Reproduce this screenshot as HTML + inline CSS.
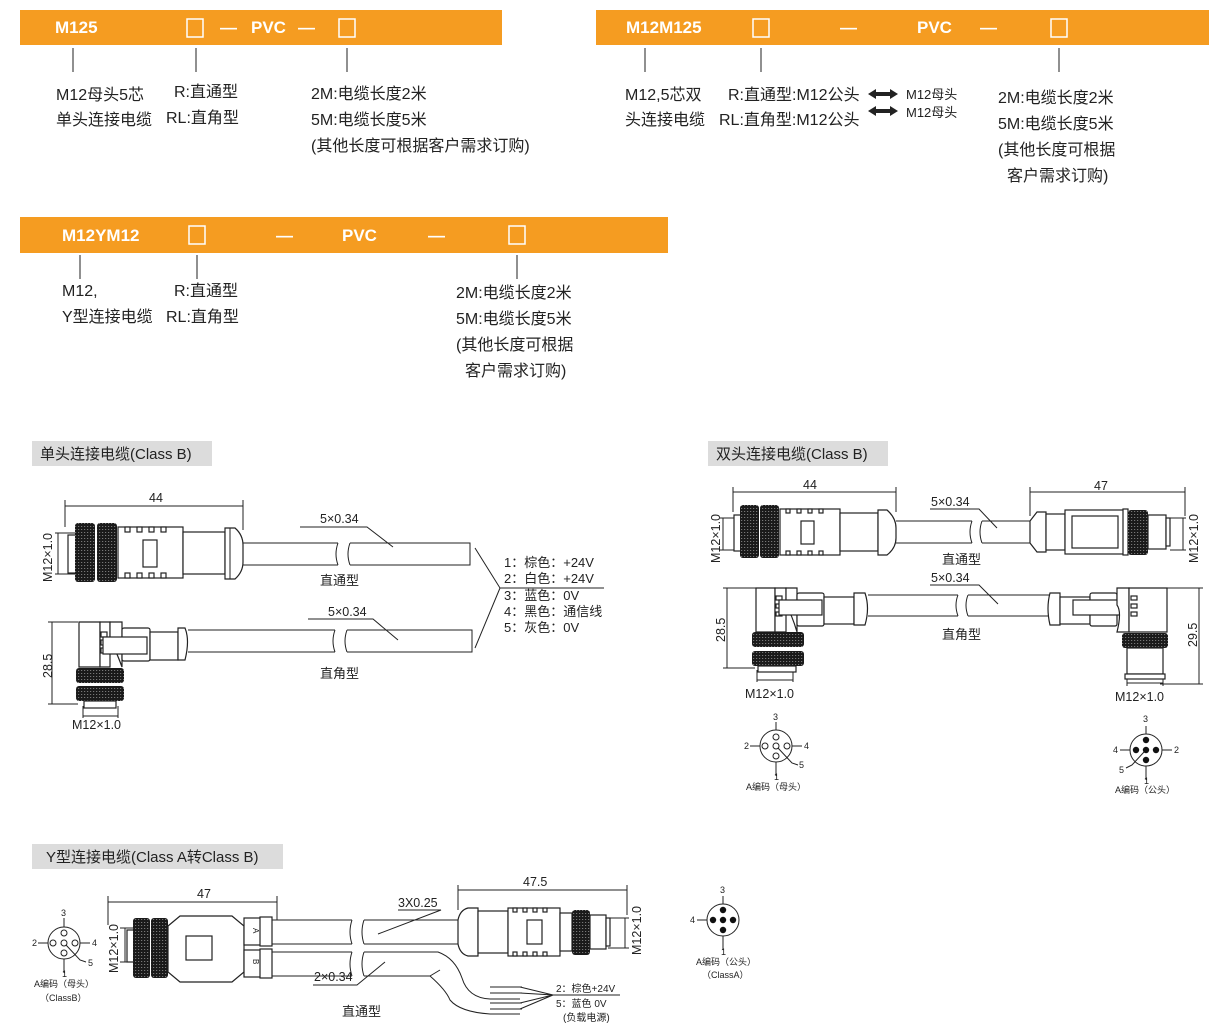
<!DOCTYPE html>
<html><head><meta charset="utf-8"><style>
html,body{margin:0;padding:0;background:#fff;}
svg{display:block;}
.t{font-family:"Liberation Sans","Noto Sans CJK SC",sans-serif;fill:#222;}
.w{font-family:"Liberation Sans","Noto Sans CJK SC",sans-serif;fill:#fff;font-weight:bold;}
.s{stroke:#222;fill:none;stroke-width:1;}
.b{stroke:#222;fill:#fff;stroke-width:1.2;}
</style></head><body>
<svg width="1223" height="1032" viewBox="0 0 1223 1032" xmlns="http://www.w3.org/2000/svg">
<defs>
<pattern id="kn" width="3" height="3" patternUnits="userSpaceOnUse"><rect width="3" height="3" fill="#1a1a1a"/><rect x="0" y="1" width="1.2" height="1" fill="#777"/></pattern>
</defs>

<!-- ===== Top banners ===== -->
<rect x="20" y="10" width="482" height="35" fill="#f59c21"/>
<text class="w" x="55" y="33" font-size="17">M125</text>
<rect x="187" y="19" width="16" height="18" fill="none" stroke="#fff" stroke-width="1.5"/>
<text class="w" x="220" y="33" font-size="17">—</text>
<text class="w" x="251" y="33" font-size="17">PVC</text>
<text class="w" x="298" y="33" font-size="17">—</text>
<rect x="339" y="19" width="16" height="18" fill="none" stroke="#fff" stroke-width="1.5"/>
<g class="s"><line x1="73" y1="48" x2="73" y2="72"/><line x1="196" y1="48" x2="196" y2="72"/><line x1="347" y1="48" x2="347" y2="72"/></g>
<g class="t" font-size="16">
<text x="56" y="100">M12母头5芯</text><text x="56" y="125">单头连接电缆</text>
<text x="174" y="97">R:直通型</text><text x="166" y="123">RL:直角型</text>
<text x="311" y="99">2M:电缆长度2米</text><text x="311" y="125">5M:电缆长度5米</text><text x="311" y="151">(其他长度可根据客户需求订购)</text>
</g>

<rect x="596" y="10" width="613" height="35" fill="#f59c21"/>
<text class="w" x="626" y="33" font-size="17">M12M125</text>
<rect x="753" y="19" width="16" height="18" fill="none" stroke="#fff" stroke-width="1.5"/>
<text class="w" x="840" y="33" font-size="17">—</text>
<text class="w" x="917" y="33" font-size="17">PVC</text>
<text class="w" x="980" y="33" font-size="17">—</text>
<rect x="1051" y="19" width="16" height="18" fill="none" stroke="#fff" stroke-width="1.5"/>
<g class="s"><line x1="645" y1="48" x2="645" y2="72"/><line x1="761" y1="48" x2="761" y2="72"/><line x1="1059" y1="48" x2="1059" y2="72"/></g>
<g class="t" font-size="16">
<text x="625" y="100">M12,5芯双</text><text x="625" y="125">头连接电缆</text>
<text x="728" y="100">R:直通型:M12公头</text><text x="719" y="125">RL:直角型:M12公头</text>
<text x="998" y="103">2M:电缆长度2米</text><text x="998" y="129">5M:电缆长度5米</text><text x="998" y="155">(其他长度可根据</text><text x="1007" y="181">客户需求订购)</text>
</g>
<g class="t" font-size="13"><text x="906" y="99">M12母头</text><text x="906" y="117">M12母头</text></g>
<g fill="#222"><path d="M868 94 L876 89 L876 92 L890 92 L890 89 L898 94 L890 99 L890 96 L876 96 L876 99Z"/><path d="M868 111 L876 106 L876 109 L890 109 L890 106 L898 111 L890 116 L890 113 L876 113 L876 116Z"/></g>

<rect x="20" y="217" width="648" height="36" fill="#f59c21"/>
<text class="w" x="62" y="241" font-size="17">M12YM12</text>
<rect x="189" y="226" width="16" height="18" fill="none" stroke="#fff" stroke-width="1.5"/>
<text class="w" x="276" y="241" font-size="17">—</text>
<text class="w" x="342" y="241" font-size="17">PVC</text>
<text class="w" x="428" y="241" font-size="17">—</text>
<rect x="509" y="226" width="16" height="18" fill="none" stroke="#fff" stroke-width="1.5"/>
<g class="s"><line x1="80" y1="255" x2="80" y2="279"/><line x1="197" y1="255" x2="197" y2="279"/><line x1="517" y1="255" x2="517" y2="279"/></g>
<g class="t" font-size="16">
<text x="62" y="296">M12,</text><text x="62" y="322">Y型连接电缆</text>
<text x="174" y="296">R:直通型</text><text x="166" y="322">RL:直角型</text>
<text x="456" y="298">2M:电缆长度2米</text><text x="456" y="324">5M:电缆长度5米</text><text x="456" y="350">(其他长度可根据</text><text x="465" y="376">客户需求订购)</text>
</g>

<!-- section labels -->
<rect x="32" y="441" width="180" height="25" fill="#dcdcdc"/>
<text class="t" x="40" y="459" font-size="15">单头连接电缆(Class B)</text>
<rect x="708" y="441" width="180" height="25" fill="#dcdcdc"/>
<text class="t" x="716" y="459" font-size="15">双头连接电缆(Class B)</text>
<rect x="32" y="844" width="251" height="25" fill="#dcdcdc"/>
<text class="t" x="46" y="862" font-size="15">Y型连接电缆(Class A转Class B)</text>

<!-- ===== Single head straight ===== -->
<g class="s">
<line x1="65" y1="506" x2="243" y2="506"/><line x1="65" y1="500" x2="65" y2="527"/><line x1="243" y1="500" x2="243" y2="530"/>
<line x1="58" y1="533" x2="58" y2="574"/>
<line x1="55" y1="533" x2="78" y2="533"/><line x1="55" y1="574" x2="78" y2="574"/>
</g>
<text class="t" x="149" y="502" font-size="12.5">44</text>
<rect x="68" y="535" width="8" height="38" class="b"/>
<rect x="75" y="523" width="20" height="59" rx="3" fill="url(#kn)"/>
<rect x="97" y="523" width="20" height="59" rx="3" fill="url(#kn)"/>
<rect x="118" y="527" width="65" height="51" class="b"/>
<rect x="143" y="540" width="14" height="27" class="b"/>
<g class="b"><rect x="125" y="527" width="5" height="5"/><rect x="137" y="527" width="5" height="5"/><rect x="149" y="527" width="5" height="5"/><rect x="161" y="527" width="5" height="5"/><rect x="125" y="573" width="5" height="5"/><rect x="137" y="573" width="5" height="5"/><rect x="149" y="573" width="5" height="5"/><rect x="161" y="573" width="5" height="5"/></g>
<rect x="183" y="532" width="42" height="42" class="b"/>
<path d="M225 528 L235 528 Q243 535 243 545 L243 562 Q243 572 235 579 L225 579Z" class="b"/>
<line x1="230" y1="528" x2="230" y2="579" class="s"/>
<path d="M243 543 L338 543 M243 565 L338 565 M338 543 Q334 554 338 565 M350 543 Q346 554 350 565 M350 543 L470 543 L470 565 L350 565" class="s"/>
<text class="t" x="320" y="523" font-size="12.5">5×0.34</text>
<path d="M300 527 L367 527 L393 547" class="s"/>
<text class="t" x="320" y="585" font-size="13">直通型</text>

<!-- Single right angle -->
<g class="s">
<line x1="52" y1="622" x2="52" y2="704"/><line x1="48" y1="622" x2="78" y2="622"/><line x1="48" y1="704" x2="78" y2="704"/>
<line x1="83" y1="716" x2="118" y2="716"/><line x1="83" y1="706" x2="83" y2="718"/><line x1="118" y1="706" x2="118" y2="718"/>
</g>
<text class="t" x="0" y="0" font-size="12.5" transform="translate(52,678) rotate(-90)">28.5</text>
<path d="M79 622 L100 622 L100 667 L79 667Z" class="b"/>
<path d="M100 622 L110 622 L110 667 L100 667Z" class="b"/>
<path d="M110 622 L122 622 L122 667 Q115 648 110 640Z" class="b"/>
<g class="b"><rect x="101" y="632" width="6" height="5"/><rect x="101" y="640" width="6" height="5"/><rect x="101" y="648" width="6" height="5"/></g>
<rect x="122" y="628" width="28" height="33" rx="2" class="b"/>
<rect x="103" y="637" width="44" height="17" class="b"/>
<rect x="150" y="632" width="28" height="28" class="b"/>
<path d="M178 628 L185 628 Q190 640 185 660 L178 660Z" class="b"/>
<path d="M188 630 L335 630 M188 652 L335 652 M335 630 Q331 641 335 652 M347 630 Q343 641 347 652 M347 630 L472 630 L472 652 L347 652" class="s"/>
<rect x="76" y="668" width="48" height="15" rx="3" fill="url(#kn)"/>
<rect x="76" y="686" width="48" height="15" rx="3" fill="url(#kn)"/>
<rect x="84" y="701" width="32" height="7" class="b"/>
<text class="t" x="72" y="729" font-size="12.5">M12×1.0</text>
<text class="t" x="328" y="616" font-size="12.5">5×0.34</text>
<path d="M308 619 L373 619 L398 640" class="s"/>
<text class="t" x="320" y="678" font-size="13">直角型</text>
<text class="t" x="0" y="0" font-size="12.5" transform="translate(52,582) rotate(-90)">M12×1.0</text>

<!-- pin list -->
<path d="M475 548 L500 588 L475 648 M500 588 L604 588" class="s"/>
<g class="t" font-size="13">
<text x="504" y="567">1：棕色：+24V</text>
<text x="504" y="583">2：白色：+24V</text>
<text x="504" y="600">3：蓝色：0V</text>
<text x="504" y="616">4：黑色：通信线</text>
<text x="504" y="632">5：灰色：0V</text>
</g>

<!-- ===== Double head straight ===== -->
<g class="s">
<line x1="733" y1="492" x2="896" y2="492"/><line x1="733" y1="487" x2="733" y2="512"/><line x1="896" y1="487" x2="896" y2="512"/>
<line x1="723" y1="518" x2="723" y2="550"/><line x1="720" y1="518" x2="740" y2="518"/><line x1="720" y1="550" x2="740" y2="550"/>
<line x1="1030" y1="492" x2="1185" y2="492"/><line x1="1030" y1="487" x2="1030" y2="516"/><line x1="1185" y1="487" x2="1185" y2="516"/>
<line x1="1183" y1="518" x2="1183" y2="550"/><line x1="1170" y1="518" x2="1186" y2="518"/><line x1="1170" y1="550" x2="1186" y2="550"/>
</g>
<text class="t" x="803" y="489" font-size="12.5">44</text>
<text class="t" x="1094" y="490" font-size="12.5">47</text>
<text class="t" x="0" y="0" font-size="12.5" transform="translate(720,563) rotate(-90)">M12×1.0</text>
<text class="t" x="0" y="0" font-size="12.5" transform="translate(1198,563) rotate(-90)">M12×1.0</text>
<rect x="734" y="515" width="7" height="36" class="b"/>
<rect x="740" y="505" width="19" height="53" rx="3" fill="url(#kn)"/>
<rect x="760" y="505" width="19" height="53" rx="3" fill="url(#kn)"/>
<rect x="780" y="509" width="60" height="46" class="b"/>
<rect x="801" y="521" width="13" height="23" class="b"/>
<g class="b"><rect x="786" y="509" width="4" height="4"/><rect x="797" y="509" width="4" height="4"/><rect x="808" y="509" width="4" height="4"/><rect x="819" y="509" width="4" height="4"/><rect x="786" y="551" width="4" height="4"/><rect x="797" y="551" width="4" height="4"/><rect x="808" y="551" width="4" height="4"/><rect x="819" y="551" width="4" height="4"/></g>
<rect x="840" y="513" width="38" height="38" class="b"/>
<path d="M878 510 L887 510 Q896 518 896 528 L896 538 Q896 548 887 555 L878 555Z" class="b"/>
<path d="M896 521 L972 521 M896 543 L972 543 M972 521 Q968 532 972 543 M982 521 Q978 532 982 543 M982 521 L1030 521 M982 543 L1030 543" class="s"/>
<path d="M1030 521 L1037 512 L1046 512 L1046 552 L1037 552 L1030 543Z" class="b"/>
<rect x="1046" y="514" width="19" height="36" class="b"/>
<rect x="1065" y="510" width="60" height="44" class="b"/>
<rect x="1072" y="516" width="46" height="32" class="b"/>
<rect x="1123" y="509" width="5" height="46" class="b"/>
<rect x="1128" y="510" width="20" height="45" rx="3" fill="url(#kn)"/>
<rect x="1148" y="515" width="18" height="34" class="b"/>
<rect x="1166" y="518" width="4" height="28" class="b"/>
<text class="t" x="931" y="506" font-size="12.5">5×0.34</text>
<path d="M930 509 L979 509 L997 528" class="s"/>
<text class="t" x="942" y="564" font-size="13">直通型</text>

<!-- double right angle -->
<g class="s">
<line x1="727" y1="588" x2="727" y2="668"/><line x1="723" y1="588" x2="760" y2="588"/><line x1="723" y1="668" x2="755" y2="668"/>
<line x1="757" y1="680" x2="793" y2="680"/><line x1="757" y1="670" x2="757" y2="682"/><line x1="793" y1="670" x2="793" y2="682"/>
<line x1="1199" y1="588" x2="1199" y2="684"/><line x1="1160" y1="588" x2="1203" y2="588"/><line x1="1160" y1="684" x2="1203" y2="684"/>
<line x1="1127" y1="683" x2="1163" y2="683"/><line x1="1127" y1="676" x2="1127" y2="686"/><line x1="1163" y1="676" x2="1163" y2="686"/>
</g>
<text class="t" x="0" y="0" font-size="12.5" transform="translate(725,642) rotate(-90)">28.5</text>
<text class="t" x="0" y="0" font-size="12.5" transform="translate(1197,647) rotate(-90)">29.5</text>
<path d="M756 588 L775 588 L775 632 L756 632Z" class="b"/>
<path d="M775 588 L786 588 L786 632 L775 632Z" class="b"/>
<path d="M786 588 L797 588 L797 632 Q792 615 786 605Z" class="b"/>
<g class="b"><rect x="776" y="596" width="6" height="4"/><rect x="776" y="604" width="6" height="4"/><rect x="776" y="612" width="6" height="4"/></g>
<rect x="797" y="593" width="27" height="33" rx="2" class="b"/>
<rect x="779" y="600" width="43" height="15" class="b"/>
<rect x="824" y="597" width="30" height="27" class="b"/>
<path d="M854 593 L865 593 Q870 608 865 625 L854 625Z" class="b"/>
<path d="M868 595 L958 595 M868 616 L958 616 M958 595 Q954 605 958 616 M968 595 Q964 605 968 616 M968 595 L1050 595 M968 616 L1050 616" class="s"/>
<rect x="752" y="632" width="52" height="15" rx="3" fill="url(#kn)"/>
<rect x="752" y="651" width="52" height="15" rx="3" fill="url(#kn)"/>
<rect x="758" y="666" width="38" height="6" class="b"/>
<text class="t" x="745" y="698" font-size="12.5">M12×1.0</text>
<path d="M1050 593 L1060 593 L1060 625 L1050 625 Q1046 608 1050 593Z" class="b"/>
<rect x="1060" y="597" width="30" height="27" class="b"/>
<rect x="1090" y="593" width="27" height="33" rx="2" class="b"/>
<rect x="1073" y="600" width="56" height="15" class="b"/>
<path d="M1117 588 L1129 588 L1129 632 L1117 632 Q1122 612 1117 605Z" class="b"/>
<path d="M1129 588 L1167 588 L1167 632 L1129 632Z" class="b"/>
<g class="b"><rect x="1131" y="596" width="6" height="4"/><rect x="1131" y="604" width="6" height="4"/><rect x="1131" y="612" width="6" height="4"/></g>
<rect x="1122" y="633" width="46" height="15" rx="3" fill="url(#kn)"/>
<rect x="1127" y="648" width="36" height="26" class="b"/>
<rect x="1125" y="674" width="40" height="5" class="b"/>
<text class="t" x="1115" y="701" font-size="12.5">M12×1.0</text>
<text class="t" x="931" y="582" font-size="12.5">5×0.34</text>
<path d="M930 585 L979 585 L998 604" class="s"/>
<text class="t" x="942" y="639" font-size="13">直角型</text>

<!-- pin diagrams double -->
<g class="s">
<circle cx="776" cy="746" r="16"/>
<circle cx="776" cy="737" r="3"/><circle cx="765" cy="746" r="3"/><circle cx="776" cy="746" r="3"/><circle cx="787" cy="746" r="3"/><circle cx="776" cy="756" r="3"/>
<line x1="776" y1="722" x2="776" y2="730"/><line x1="750" y1="746" x2="760" y2="746"/><line x1="792" y1="746" x2="802" y2="746"/><line x1="776" y1="762" x2="776" y2="776"/><path d="M778 748 L792 763 L798 765"/>
</g>
<g class="t" font-size="9"><text x="773" y="720">3</text><text x="744" y="749">2</text><text x="804" y="749">4</text><text x="799" y="768">5</text><text x="774" y="780">1</text><text x="746" y="790">A编码（母头）</text></g>
<g class="s">
<circle cx="1146" cy="750" r="16"/>
<line x1="1146" y1="726" x2="1146" y2="734"/><line x1="1120" y1="750" x2="1130" y2="750"/><line x1="1162" y1="750" x2="1172" y2="750"/><line x1="1146" y1="766" x2="1146" y2="780"/><path d="M1144 752 L1132 765 L1126 768"/>
</g>
<g fill="#111"><circle cx="1146" cy="740" r="3.2"/><circle cx="1136" cy="750" r="3.2"/><circle cx="1146" cy="750" r="3.2"/><circle cx="1156" cy="750" r="3.2"/><circle cx="1146" cy="760" r="3.2"/></g>
<g class="t" font-size="9"><text x="1143" y="722">3</text><text x="1113" y="753">4</text><text x="1174" y="753">2</text><text x="1119" y="773">5</text><text x="1144" y="784">1</text><text x="1115" y="793">A编码（公头）</text></g>

<!-- ===== Y cable ===== -->
<g class="s">
<circle cx="64" cy="943" r="16"/>
<circle cx="64" cy="933" r="3"/><circle cx="53" cy="943" r="3"/><circle cx="64" cy="943" r="3"/><circle cx="75" cy="943" r="3"/><circle cx="64" cy="953" r="3"/>
<line x1="64" y1="918" x2="64" y2="927"/><line x1="38" y1="943" x2="48" y2="943"/><line x1="80" y1="943" x2="90" y2="943"/><line x1="64" y1="959" x2="64" y2="973"/><path d="M66 945 L80 960 L86 962"/>
</g>
<g class="t" font-size="9"><text x="61" y="916">3</text><text x="32" y="946">2</text><text x="92" y="946">4</text><text x="88" y="966">5</text><text x="62" y="977">1</text><text x="34" y="987">A编码（母头）</text><text x="40" y="1001">（ClassB）</text></g>
<g class="s">
<line x1="108" y1="902" x2="277" y2="902"/><line x1="108" y1="896" x2="108" y2="925"/><line x1="277" y1="896" x2="277" y2="920"/>
<line x1="125" y1="928" x2="125" y2="962"/><line x1="120" y1="928" x2="140" y2="928"/><line x1="120" y1="962" x2="140" y2="962"/>
</g>
<text class="t" x="197" y="898" font-size="12.5">47</text>
<text class="t" x="0" y="0" font-size="12.5" transform="translate(118,973) rotate(-90)">M12×1.0</text>
<rect x="127" y="930" width="7" height="32" class="b"/>
<rect x="133" y="918" width="17" height="60" rx="3" fill="url(#kn)"/>
<rect x="151" y="918" width="17" height="60" rx="3" fill="url(#kn)"/>
<path d="M168 926 L180 916 L232 916 L244 926 L244 972 L232 982 L180 982 L168 972Z" class="b"/>
<rect x="186" y="936" width="26" height="24" class="b"/>
<rect x="244" y="918" width="20" height="27" class="b"/>
<rect x="244" y="950" width="20" height="27" class="b"/>
<rect x="260" y="917" width="12" height="29" class="b"/>
<rect x="260" y="949" width="12" height="29" class="b"/>
<text class="t" font-size="8" transform="translate(253,928) rotate(90)">A</text>
<text class="t" font-size="8" transform="translate(253,959) rotate(90)">B</text>
<path d="M272 920 L352 920 M272 944 L352 944 M352 920 Q348 932 352 944 M364 920 Q360 932 364 944 M364 920 L458 920 M364 944 L458 944" class="s"/>
<path d="M272 952 L352 952 M272 976 L352 976 M352 952 Q348 964 352 976 M364 952 Q360 964 364 976 M364 952 L438 952 Q455 958 462 978 Q468 998 490 999 L520 999 M364 976 L430 976 Q446 990 450 1000 Q460 1012 490 1014 L520 1014 M430 976 L440 970" class="s"/>
<path d="M490 987 L522 987 M490 993 L522 993 M520 987 L553 995 L520 993 M490 1003 L522 1003 M490 1009 L522 1009 M520 1003 L553 995 L520 1009" class="s"/>
<text class="t" x="398" y="907" font-size="12.5">3X0.25</text>
<path d="M398 910 L441 910 L378 934" class="s"/>
<text class="t" x="314" y="981" font-size="12.5">2×0.34</text>
<path d="M313 985 L357 985 L385 962" class="s"/>
<text class="t" x="342" y="1016" font-size="13">直通型</text>
<line x1="552" y1="995" x2="620" y2="995" class="s"/>
<g class="t" font-size="10"><text x="556" y="992">2：棕色+24V</text><text x="556" y="1007">5：蓝色 0V</text><text x="563" y="1021">(负载电源)</text></g>
<g class="s">
<line x1="458" y1="890" x2="627" y2="890"/><line x1="458" y1="885" x2="458" y2="910"/><line x1="627" y1="885" x2="627" y2="915"/>
<line x1="625" y1="918" x2="625" y2="948"/><line x1="608" y1="918" x2="629" y2="918"/><line x1="608" y1="948" x2="629" y2="948"/>
</g>
<text class="t" x="523" y="886" font-size="12.5">47.5</text>
<text class="t" x="0" y="0" font-size="12.5" transform="translate(641,955) rotate(-90)">M12×1.0</text>
<path d="M458 920 Q460 910 468 908 L478 908 L478 956 L468 956 Q460 954 458 944Z" class="b"/>
<rect x="478" y="911" width="30" height="42" class="b"/>
<rect x="508" y="908" width="52" height="48" class="b"/>
<rect x="527" y="920" width="15" height="24" class="b"/>
<g class="b"><rect x="513" y="908" width="4" height="4"/><rect x="523" y="908" width="4" height="4"/><rect x="533" y="908" width="4" height="4"/><rect x="543" y="908" width="4" height="4"/><rect x="513" y="952" width="4" height="4"/><rect x="523" y="952" width="4" height="4"/><rect x="533" y="952" width="4" height="4"/><rect x="543" y="952" width="4" height="4"/></g>
<rect x="560" y="913" width="12" height="38" class="b"/>
<rect x="572" y="910" width="18" height="45" rx="3" fill="url(#kn)"/>
<rect x="590" y="915" width="16" height="34" class="b"/>
<rect x="606" y="918" width="4" height="28" class="b"/>

<!-- right pin diagram -->
<g class="s"><circle cx="723" cy="920" r="16"/><line x1="723" y1="896" x2="723" y2="904"/><line x1="697" y1="920" x2="707" y2="920"/><line x1="723" y1="936" x2="723" y2="950"/></g>
<g fill="#111"><circle cx="723" cy="910" r="3.2"/><circle cx="713" cy="920" r="3.2"/><circle cx="723" cy="920" r="3.2"/><circle cx="733" cy="920" r="3.2"/><circle cx="723" cy="930" r="3.2"/></g>
<g class="t" font-size="9"><text x="720" y="893">3</text><text x="690" y="923">4</text><text x="721" y="955">1</text><text x="696" y="965">A编码（公头）</text><text x="702" y="978">（ClassA）</text></g>
</svg>
</body></html>
